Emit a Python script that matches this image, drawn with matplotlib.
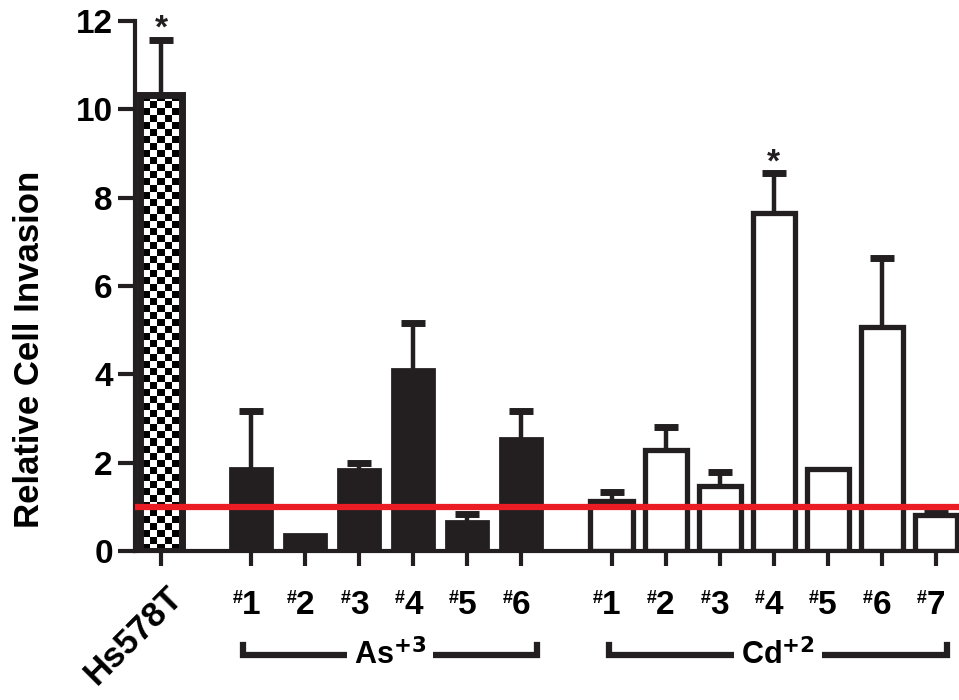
import numpy as np
import matplotlib
matplotlib.use('Agg')
from matplotlib import pyplot as plt
from matplotlib import transforms

plt.rcParams['font.family'] = ['Liberation Sans', 'DejaVu Sans']
plt.rcParams['font.weight'] = 'bold'
plt.rcParams['axes.labelweight'] = 'bold'

# data
hs_label = 'Hs578T'
hs_value = 10.33
hs_top = 11.58

as_labels = ['1', '2', '3', '4', '5', '6']
as_values = [1.87, 0.38, 1.85, 4.12, 0.68, 2.55]
as_tops = [3.16, 0.0, 1.99, 5.17, 0.84, 3.18]

cd_labels = ['1', '2', '3', '4', '5', '6', '7']
cd_values = [1.13, 2.28, 1.47, 7.65, 1.85, 5.08, 0.81]
cd_tops = [1.33, 2.80, 1.78, 8.55, 0.0, 6.63, 0.86]

baseline = 1.0
star_values = [12.06, 9.03]

# x positions (gap between groups)
gap = 1.67
x_hs = 0.0
x_as = gap + np.arange(len(as_values))
x_cd = x_as[-1] + gap + np.arange(len(cd_values))

black = '#231f20'
red = '#ec1c24'
bw = 0.78


def err_up(ax, xs, vals, tops):
    for x, v, t in zip(xs, vals, tops):
        if t > v:
            ax.vlines(x, v, t, color=black, lw=3.2, zorder=1)
            ax.plot([x], [t], marker='_', ms=17, mew=5, color=black,
                    zorder=1, solid_capstyle='round')


fig = plt.figure(figsize=(9.59, 7.0), dpi=100)
ax = fig.add_axes([135/959, 1 - 551/700, 1 - 135/959, 530/700])

# Hs578T checkered bar
ax.bar(x_hs, hs_value, bw, color='white', edgecolor=black, lw=3, zorder=2)
rows = int(round(hs_value * 44.2 / 7))
cols = 5
board = np.indices((rows, cols)).sum(0) % 2
ax.imshow(board, cmap='gray', extent=(x_hs - bw/2 + 0.06, x_hs + bw/2 - 0.06, 0, hs_value),
          aspect='auto', interpolation='nearest', zorder=2.2)
ax.bar(x_hs, hs_value, bw, fill=False, edgecolor=black, lw=5, zorder=2.5)
err_up(ax, [x_hs], [hs_value], [hs_top])

# As bars
ax.bar(x_as, as_values, bw, color=black, edgecolor=black, lw=2, zorder=2)
err_up(ax, x_as, as_values, as_tops)

# Cd bars
ax.bar(x_cd, cd_values, bw, color='white', edgecolor=black, lw=3.8, zorder=2)
err_up(ax, x_cd, cd_values, cd_tops)

ax.axhline(baseline, color=red, lw=4.5, zorder=4)

# asterisks
for x, s in zip([x_hs, x_cd[3]], star_values):
    ax.text(x, s - 0.43, '*', ha='center', va='baseline', fontsize=24,
            color=black, clip_on=False)

ax.set_xlim(-0.48, x_cd[-1] + 0.43)
ax.set_ylim(0, 12)
ax.set_yticks(range(0, 13, 2))
ax.set_xticks(np.concatenate([[x_hs], x_as, x_cd]))
ax.set_xticklabels([])
for s in ['top', 'right']:
    ax.spines[s].set_visible(False)
for s in ['left', 'bottom']:
    ax.spines[s].set_linewidth(3)
    ax.spines[s].set_color(black)
ax.tick_params(axis='y', length=12, width=3, color=black, labelsize=24, pad=4)
ax.tick_params(axis='x', length=11, width=3, color=black)
ax.set_ylabel('Relative Cell Invasion', fontsize=25, fontweight='bold')
ax.yaxis.set_label_coords(-0.108, 0.38)

# x labels
trans = transforms.blended_transform_factory(ax.transData, ax.transAxes)
ylab = -0.073
for x, lab in zip(list(x_as) + list(x_cd), as_labels + cd_labels):
    ax.text(x, ylab, lab, transform=trans, ha='center', va='top', fontsize=24)
    tr = transforms.offset_copy(trans, fig=fig, x=-6.5, y=0, units='points')
    ax.text(x, ylab, '#', transform=tr, ha='right', va='top', fontsize=13)
ax.text(x_hs + 0.08, -0.055, hs_label, transform=trans, rotation=45,
        rotation_mode='anchor', ha='right', va='top', fontsize=25)

# group brackets
yl, yt = -0.196, -0.177
for x0, x1, name in [(x_as[0] - 0.15, x_as[-1] + 0.29, r'As$^{+3}$'),
                     (x_cd[0] - 0.04, x_cd[-1] + 0.21, r'Cd$^{+2}$')]:
    ax.plot([x0, x0, x1, x1], [yt, yl, yl, yt], color=black, lw=4.5,
            transform=trans, clip_on=False, solid_joinstyle='miter')
    ax.text((x0 + x1) / 2, yl, name, transform=trans, ha='center', va='center',
            fontsize=22, bbox=dict(facecolor='white', edgecolor='none', pad=5))

fig.savefig('out.png', dpi=100)
